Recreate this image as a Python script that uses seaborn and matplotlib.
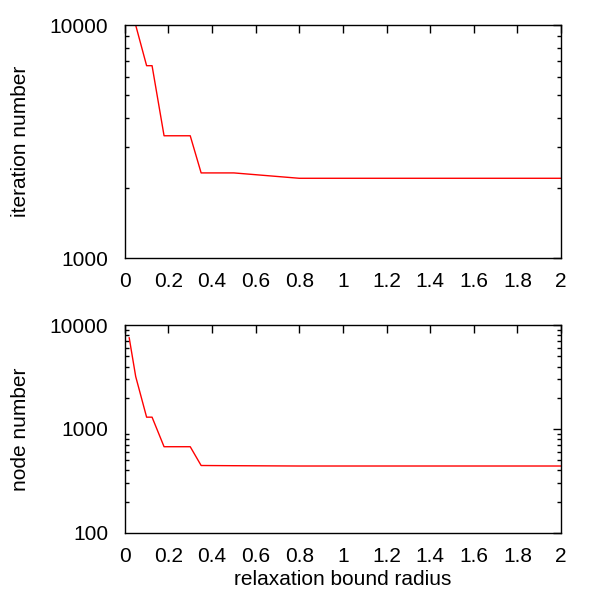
import pandas as pd
import matplotlib
matplotlib.use('Agg')
import matplotlib.pyplot as plt
import seaborn as sns

radius_iter = [0.02, 0.05, 0.1, 0.125, 0.18, 0.3, 0.35, 0.5, 0.8, 1.0, 1.5, 2.0]
iterations = [10000, 10000, 6700, 6700, 3350, 3350, 2320, 2320, 2200, 2200, 2200, 2200]

radius_node = [0.02, 0.05, 0.1, 0.125, 0.18, 0.3, 0.35, 0.5, 0.8, 1.0, 1.5, 2.0]
nodes = [7600, 3200, 1300, 1300, 675, 675, 445, 443, 440, 440, 440, 440]

xticks = [0, 0.2, 0.4, 0.6, 0.8, 1, 1.2, 1.4, 1.6, 1.8, 2]
xtick_labels = ['0', '0.2', '0.4', '0.6', '0.8', '1', '1.2', '1.4', '1.6', '1.8', '2']

sns.set_theme(style='white')
plt.rcParams['font.family'] = ['Liberation Sans', 'DejaVu Sans']
plt.rcParams['text.color'] = 'black'
plt.rcParams['axes.labelcolor'] = 'black'
plt.rcParams['xtick.color'] = 'black'
plt.rcParams['ytick.color'] = 'black'

df_top = pd.DataFrame({'radius': radius_iter, 'value': iterations})
df_bot = pd.DataFrame({'radius': radius_node, 'value': nodes})

fig = plt.figure(figsize=(6, 6), dpi=100)
ax1 = fig.add_axes([0.208, 0.570, 0.727, 0.388])
ax2 = fig.add_axes([0.208, 0.112, 0.727, 0.346])

panels = [
    (ax1, df_top, (1000, 10000), [1000, 10000], 'iteration number', ''),
    (ax2, df_bot, (100, 10000), [100, 1000, 10000], 'node number', 'relaxation bound radius'),
]

for ax, df, ylim, yticks, ylabel, xlabel in panels:
    sns.lineplot(data=df, x='radius', y='value', ax=ax, color='red', linewidth=1)
    ax.set_yscale('log')
    ax.set_xlim(0, 2)
    ax.set_ylim(*ylim)
    ax.set_xticks(xticks)
    ax.set_xticklabels(xtick_labels)
    ax.set_yticks(yticks)
    ax.set_yticklabels([str(t) for t in yticks])
    ax.set_ylabel(ylabel, fontsize=15, labelpad=14)
    ax.set_xlabel(xlabel, fontsize=15, labelpad=3)
    ax.tick_params(which='both', direction='in', top=True, right=True,
                   labelsize=15, color='black', labelcolor='black')
    ax.tick_params(axis='y', which='both', pad=12)
    ax.tick_params(axis='x', which='both', pad=10)
    ax.tick_params(which='major', length=6, width=1)
    ax.tick_params(which='minor', length=3, width=1, left=True, right=True)
    for s in ax.spines.values():
        s.set_color('black')
        s.set_linewidth(1)

fig.savefig('out.png', dpi=100)
